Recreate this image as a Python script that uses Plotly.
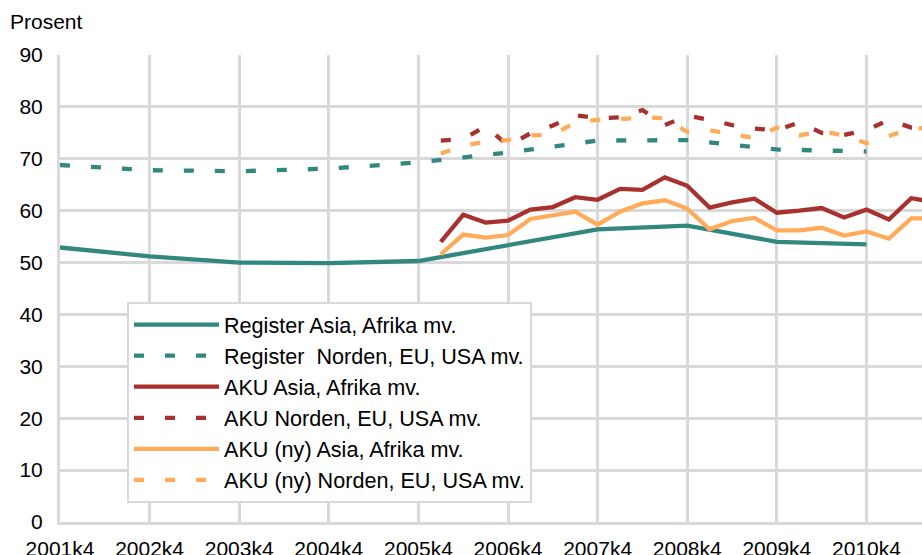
import plotly.graph_objects as go

# Quarter categories 2001k4 .. 2011k3
quarters = ["2001k4"] + [f"{y}k{q}" for y in range(2002, 2011) for q in range(1, 5)] + ["2011k1", "2011k2", "2011k3"]
year_ticks = [f"{y}k4" for y in range(2001, 2011)]

# Register (annual, 4th quarter)
reg_asia = [52.9, 51.2, 50.0, 49.9, 50.3, 53.4, 56.4, 57.1, 54.0, 53.5]
reg_norden = [68.8, 67.8, 67.6, 68.1, 69.3, 71.2, 73.5, 73.6, 71.8, 71.4]

# AKU quarterly from 2006k1
aku_start = "2006k1"
aku_asia = [54.0, 59.2, 57.7, 58.1, 60.2, 60.7, 62.6, 62.1, 64.2, 64.0, 66.4, 64.8,
            60.6, 61.6, 62.3, 59.6, 60.0, 60.5, 58.7, 60.2, 58.3, 62.4, 61.7]
aku_norden = [73.5, 73.8, 76.3, 72.5, 74.9, 76.4, 78.4, 77.8, 78.0, 79.4, 76.5, 78.3,
              77.5, 76.5, 75.8, 75.5, 77.0, 75.0, 74.6, 75.5, 77.5, 76.0, 75.6]
akuny_asia = [51.6, 55.4, 54.8, 55.3, 58.4, 59.2, 59.8, 57.3, 59.8, 61.4, 62.0, 60.4,
              56.4, 58.0, 58.6, 56.2, 56.2, 56.7, 55.2, 56.0, 54.6, 58.5, 58.5]
akuny_norden = [71.0, 72.5, 73.3, 73.6, 74.5, 74.6, 77.0, 77.5, 77.6, 78.0, 77.8, 75.2,
                75.5, 74.8, 74.0, 76.0, 74.5, 75.3, 74.5, 73.0, 74.3, 75.8, 76.0]

names = ["Register Asia, Afrika mv.", "Register \u00a0Norden, EU, USA mv.",
         "AKU Asia, Afrika mv.", "AKU Norden, EU, USA mv.",
         "AKU (ny) Asia, Afrika mv.", "AKU (ny) Norden, EU, USA mv."]

TEAL = "#32877f"
RED = "#a8302f"
ORANGE = "#ffab5a"
GRID = "#d9d9d9"
DASH = "10px,21px"
FONT = "Liberation Sans, Arial, sans-serif"
LW = 4.3

i0 = quarters.index(aku_start)
aku_x = quarters[i0:i0 + len(aku_asia)]

fig = go.Figure()
fig.add_trace(go.Scatter(x=year_ticks, y=reg_asia, mode="lines", name=names[0],
                         line=dict(color=TEAL, width=LW)))
fig.add_trace(go.Scatter(x=year_ticks, y=reg_norden, mode="lines", name=names[1],
                         line=dict(color=TEAL, width=LW, dash=DASH)))
fig.add_trace(go.Scatter(x=aku_x, y=aku_asia, mode="lines", name=names[2],
                         line=dict(color=RED, width=LW)))
fig.add_trace(go.Scatter(x=aku_x, y=aku_norden, mode="lines", name=names[3],
                         line=dict(color=RED, width=LW, dash=DASH)))
fig.add_trace(go.Scatter(x=aku_x, y=akuny_asia, mode="lines", name=names[4],
                         line=dict(color=ORANGE, width=LW)))
fig.add_trace(go.Scatter(x=aku_x, y=akuny_norden, mode="lines", name=names[5],
                         line=dict(color=ORANGE, width=LW, dash=DASH)))

PW = 862  # plot width in px; plot runs to the window's right edge, as in the reference

fig.update_layout(
    width=922, height=555, autosize=False,
    margin=dict(l=60, r=0, t=55, b=33),
    paper_bgcolor="white", plot_bgcolor="white",
    font=dict(family=FONT, size=21, color="#000000"),
    showlegend=True,
    legend=dict(x=(127 - 60) / PW, y=(522 - 302) / 467, xanchor="left", yanchor="top",
                bgcolor="white", bordercolor=GRID, borderwidth=2,
                itemwidth=85, tracegroupgap=0,
                font=dict(family=FONT, size=21.6, color="#000000")),
    xaxis=dict(type="category", categoryorder="array", categoryarray=quarters,
               range=[0, 38.48], tickmode="array", tickvals=year_ticks, ticktext=year_ticks,
               showgrid=True, gridcolor=GRID, gridwidth=3,
               showline=True, linecolor=GRID, linewidth=3,
               ticks="", ticklabelstandoff=6, automargin=False,
               tickfont=dict(family=FONT, size=21, color="#000000")),
    yaxis=dict(range=[0, 90], tickmode="array", tickvals=list(range(0, 91, 10)),
               showgrid=True, gridcolor=GRID, gridwidth=3,
               zeroline=False, showline=True, linecolor=GRID, linewidth=3,
               ticks="", ticklabelstandoff=10, automargin=False,
               tickfont=dict(family=FONT, size=21, color="#000000")),
    annotations=[dict(text="Prosent", xref="paper", yref="paper",
                      x=(8 - 60) / PW, y=(522 - 8) / 467, xanchor="left", yanchor="top",
                      showarrow=False, font=dict(family=FONT, size=21, color="#000000"))],
)

fig.write_html("out.html", config={"displayModeBar": False},
               post_script="document.body.style.margin='0';document.body.style.overflow='hidden';")
